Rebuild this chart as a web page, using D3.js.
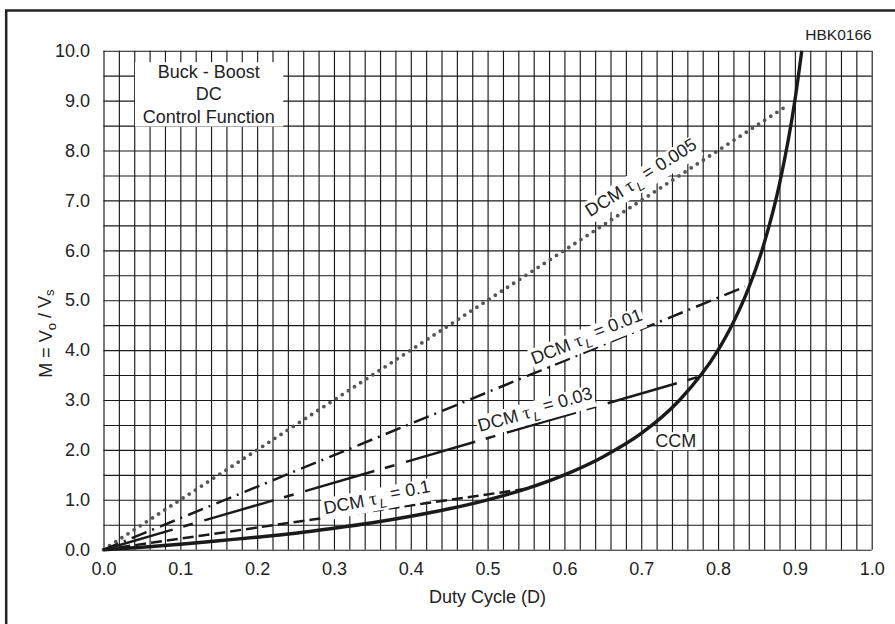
<!DOCTYPE html>
<html>
<head>
<meta charset="utf-8">
<script src="https://cdn.jsdelivr.net/npm/d3@7"></script>
<style>
  html, body { margin: 0; padding: 0; background: #fff; }
  svg { display: block; }
  text { font-family: "Liberation Sans", Arial, Helvetica, sans-serif; fill: #222; }
</style>
</head>
<body>
<svg id="chart" width="895" height="624"></svg>
<script>
// ---------- data ----------
const xTickLabels = [0.0, 0.1, 0.2, 0.3, 0.4, 0.5, 0.6, 0.7, 0.8, 0.9, 1.0];
const yTickLabels = [0, 1, 2, 3, 4, 5, 6, 7, 8, 9, 10];

// CCM curve (read values)
const ccmD = [0, 0.05, 0.1, 0.15, 0.2, 0.25, 0.3, 0.35, 0.4, 0.45, 0.5, 0.55, 0.6, 0.65, 0.7, 0.75, 0.8, 0.82, 0.84, 0.86, 0.88, 0.9, 0.909];
const ccmM = [0, 0.05, 0.11, 0.18, 0.25, 0.33, 0.43, 0.54, 0.67, 0.82, 1.0, 1.22, 1.5, 1.86, 2.33, 3.0, 4.0, 4.56, 5.25, 6.14, 7.33, 9.0, 10.0];

// DCM lines (start / end points read)
const tau005D = [0, 0.89];  const tau005M = [0, 8.9];
const tau001D = [0, 0.835]; const tau001M = [0, 5.27];
const tau003D = [0, 0.776]; const tau003M = [0, 3.47];
const tau01D  = [0, 0.55];  const tau01M  = [0, 1.22];

const dcmLabels = ["0.005", "0.01", "0.03", "0.1"];
const boxLines = ["Buck - Boost", "DC", "Control Function"];

// ---------- layout ----------
const svg = d3.select("#chart");
const x = d3.scaleLinear().domain([0, 1]).range([103.5, 871.7]);
const y = d3.scaleLinear().domain([0, 10]).range([549.7, 50.7]);

svg.append("rect").attr("width", 895).attr("height", 624).attr("fill", "#fff");

// outer frame (only top and left visible)
svg.append("path").attr("d", "M6.2,630 V10.5 H900")
  .attr("fill", "none").attr("stroke", "#222").attr("stroke-width", 2.5);

// grid
const gridX = d3.range(0, 51).map(i => i * 0.02);
const gridY = d3.range(0, 21).map(i => i * 0.5);
const grid = svg.append("g");
grid.append("g").attr("transform", `translate(0,${y(0)})`)
  .call(d3.axisBottom(x).tickValues(gridX).tickSize(-(y(0) - y(10))).tickFormat(""))
  .call(g => g.select(".domain").remove())
  .call(g => g.selectAll("line").attr("stroke", "#1a1a1a").attr("stroke-width", 1.15));
grid.append("g").attr("transform", `translate(${x(0)},0)`)
  .call(d3.axisLeft(y).tickValues(gridY).tickSize(-(x(1) - x(0))).tickFormat(""))
  .call(g => g.select(".domain").remove())
  .call(g => g.selectAll("line").attr("stroke", "#1a1a1a").attr("stroke-width", 1.15));

// tick labels
const fmt = d3.format(".1f");
svg.append("g").attr("transform", `translate(0,${y(0)})`)
  .call(d3.axisBottom(x).tickValues(xTickLabels).tickSize(0).tickPadding(12.5).tickFormat(fmt))
  .call(g => g.select(".domain").remove())
  .call(g => g.selectAll("text").attr("font-size", 18).attr("font-family", "Liberation Sans, Arial, sans-serif").attr("fill", "#222"));
svg.append("g").attr("transform", `translate(${x(0)},0)`)
  .call(d3.axisLeft(y).tickValues(yTickLabels).tickSize(0).tickPadding(13.5).tickFormat(fmt))
  .call(g => g.select(".domain").remove())
  .call(g => g.selectAll("text").attr("font-size", 18).attr("font-family", "Liberation Sans, Arial, sans-serif").attr("fill", "#222"));

// axis titles
svg.append("text").attr("x", (x(0) + x(1)) / 2).attr("y", 603)
  .attr("text-anchor", "middle").attr("font-size", 18).text("Duty Cycle (D)");
const yt = svg.append("text").attr("transform", `translate(52,${y(4.33)}) rotate(-90)`)
  .attr("text-anchor", "middle").attr("font-size", 18);
yt.append("tspan").text("M = V");
yt.append("tspan").attr("font-size", 13).attr("dy", "0.3em").text("o");
yt.append("tspan").attr("dy", "-0.3em").text(" / V");
yt.append("tspan").attr("font-size", 13).attr("dy", "0.3em").text("s");

// code label
svg.append("text").attr("x", x(1)).attr("y", 40).attr("text-anchor", "end")
  .attr("font-size", 15.5).text("HBK0166");

// Buck-Boost box
svg.append("rect")
  .attr("x", x(0.041)).attr("y", y(9.77))
  .attr("width", x(0.234) - x(0.041)).attr("height", y(8.48) - y(9.77))
  .attr("fill", "#fff");
const boxM = [9.46, 9.01, 8.56];
svg.append("g").selectAll("text").data(boxLines).join("text")
  .attr("x", x(0.137)).attr("y", (d, i) => y(boxM[i]))
  .attr("text-anchor", "middle").attr("font-size", 18).text(d => d);

// lines
const line = d3.line().x(d => x(d[0])).y(d => y(d[1]));
const plotG = svg.append("g");
function addLine(D, M, style) {
  const pts = D.map((d, i) => [d, M[i]]);
  const p = plotG.append("path").attr("d", line(pts)).attr("fill", "none");
  Object.entries(style).forEach(([k, v]) => p.attr(k, v));
}
addLine(tau005D, tau005M, { stroke: "#555", "stroke-width": 3.8, "stroke-dasharray": "0,7.3", "stroke-linecap": "round" });
addLine(tau001D, tau001M, { stroke: "#1a1a1a", "stroke-width": 2.5, "stroke-dasharray": "16,6,2,6.5" });
addLine(tau003D, tau003M, { stroke: "#1a1a1a", "stroke-width": 2.5, "stroke-dasharray": "72,11,10,12" });
addLine(tau01D, tau01M, { stroke: "#1a1a1a", "stroke-width": 2.5, "stroke-dasharray": "11,5" });

const ccmLine = d3.line().x(d => x(d[0])).y(d => y(d[1])).curve(d3.curveMonotoneX);
plotG.append("path").attr("d", ccmLine(ccmD.map((d, i) => [d, ccmM[i]])))
  .attr("fill", "none").attr("stroke", "#1a1a1a").attr("stroke-width", 3.4);

// DCM labels
const labelPos = [[0.70, 7.45, -32], [0.629, 4.26, -21.5], [0.562, 2.80, -15.5], [0.356, 1.04, -11]];
dcmLabels.forEach((lab, i) => {
  const [d, m, ang] = labelPos[i];
  const g = svg.append("g").attr("transform", `translate(${x(d)},${y(m)}) rotate(${ang})`);
  const bg = g.append("rect").attr("fill", "#fff");
  const t = g.append("text").attr("text-anchor", "middle").attr("dy", "0.35em").attr("font-size", 18);
  t.append("tspan").text("DCM ");
  t.append("tspan").attr("font-family", "Liberation Serif, serif").attr("font-size", 19).text("τ");
  t.append("tspan").attr("font-size", 13).attr("font-style", "italic").attr("dy", "0.35em").attr("dx", 2).text("L");
  t.append("tspan").attr("dy", "-0.35em").text(" = " + lab);
  const b = t.node().getBBox();
  bg.attr("x", b.x - 1).attr("y", b.y + 2).attr("width", b.width + 2).attr("height", b.height - 3);
});

// CCM label
{
  const g = svg.append("g").attr("transform", `translate(${x(0.745)},${y(2.18)})`);
  const bg = g.append("rect").attr("fill", "#fff");
  const t = g.append("text").attr("text-anchor", "middle").attr("dy", "0.35em").attr("font-size", 18).text("CCM");
  const b = t.node().getBBox();
  bg.attr("x", b.x - 1).attr("y", b.y + 1).attr("width", b.width + 2).attr("height", b.height - 2);
}
</script>
</body>
</html>
